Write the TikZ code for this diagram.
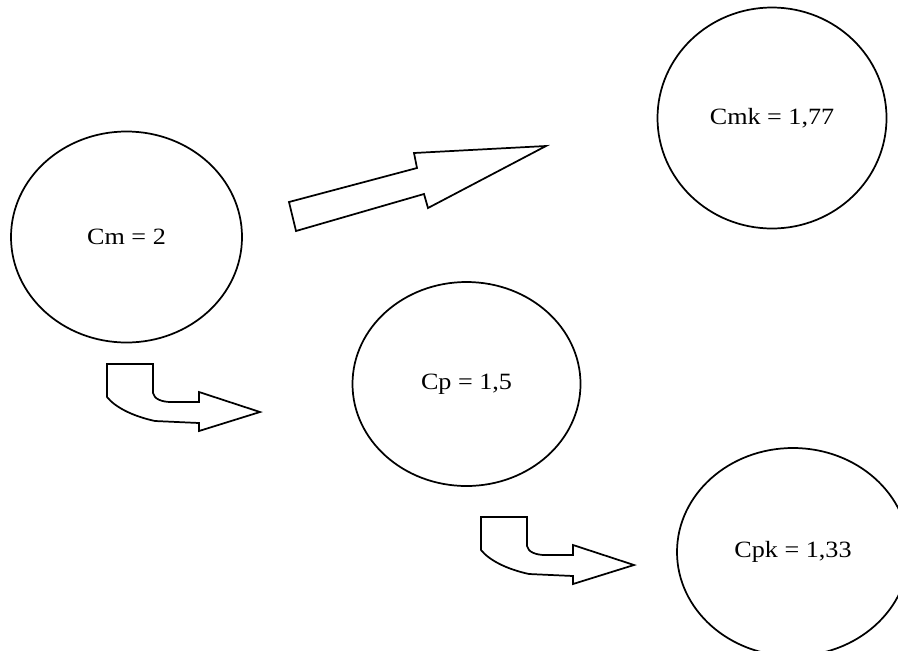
\documentclass[tikz,border=0pt]{standalone}
\usepackage{fontspec}
\setmainfont{Liberation Serif}[FakeStretch=1.12]
\usetikzlibrary{shapes.geometric}

\tikzset{
  capa/.style={draw, ellipse, line width=1.3pt, inner sep=0pt},
  blockarrow/.style={draw, line width=1.3pt, line join=miter},
}

% bent block arrow, top left corner at #1
\newcommand{\bentarrow}[1]{%
\draw[blockarrow, shift={#1}] (0,0) -- (46,0) -- (46,29)
  .. controls (47,35) and (55,38) .. (64,38) -- (92,38) -- (92,28)
  -- (153,48) -- (92,67) -- (92,59) -- (48,57)
  .. controls (25,52) and (8,43) .. (0,33) -- cycle;
}

\begin{document}
\begin{tikzpicture}[x=0.75pt, y=-0.75pt, font=\fontsize{17.5}{20}\selectfont]
\useasboundingbox (0,0) rectangle (898,650);

% capability indices
\node[capa, minimum width=173.25pt, minimum height=158.25pt] (cm) at (126.5,237) {Cm = 2};
\node[capa, minimum width=171.75pt, minimum height=165.75pt] (cmk) at (772,118) {Cmk = 1,77};
\node[capa, minimum width=171pt, minimum height=153pt] (cp) at (466.5,384) {Cp = 1,5};
\node[capa, minimum width=174pt, minimum height=156pt] (cpk) at (793,552) {Cpk = 1,33};

% straight arrow cm -> cmk
\draw[blockarrow] (296,231) -- (289,202) -- (417,168) -- (414,153)
  -- (546,146) -- (428,208) -- (424,194) -- cycle;

% bent arrows cm -> cp, cp -> cpk
\bentarrow{(107,364)}
\bentarrow{(481,517)}

\end{tikzpicture}
\end{document}
